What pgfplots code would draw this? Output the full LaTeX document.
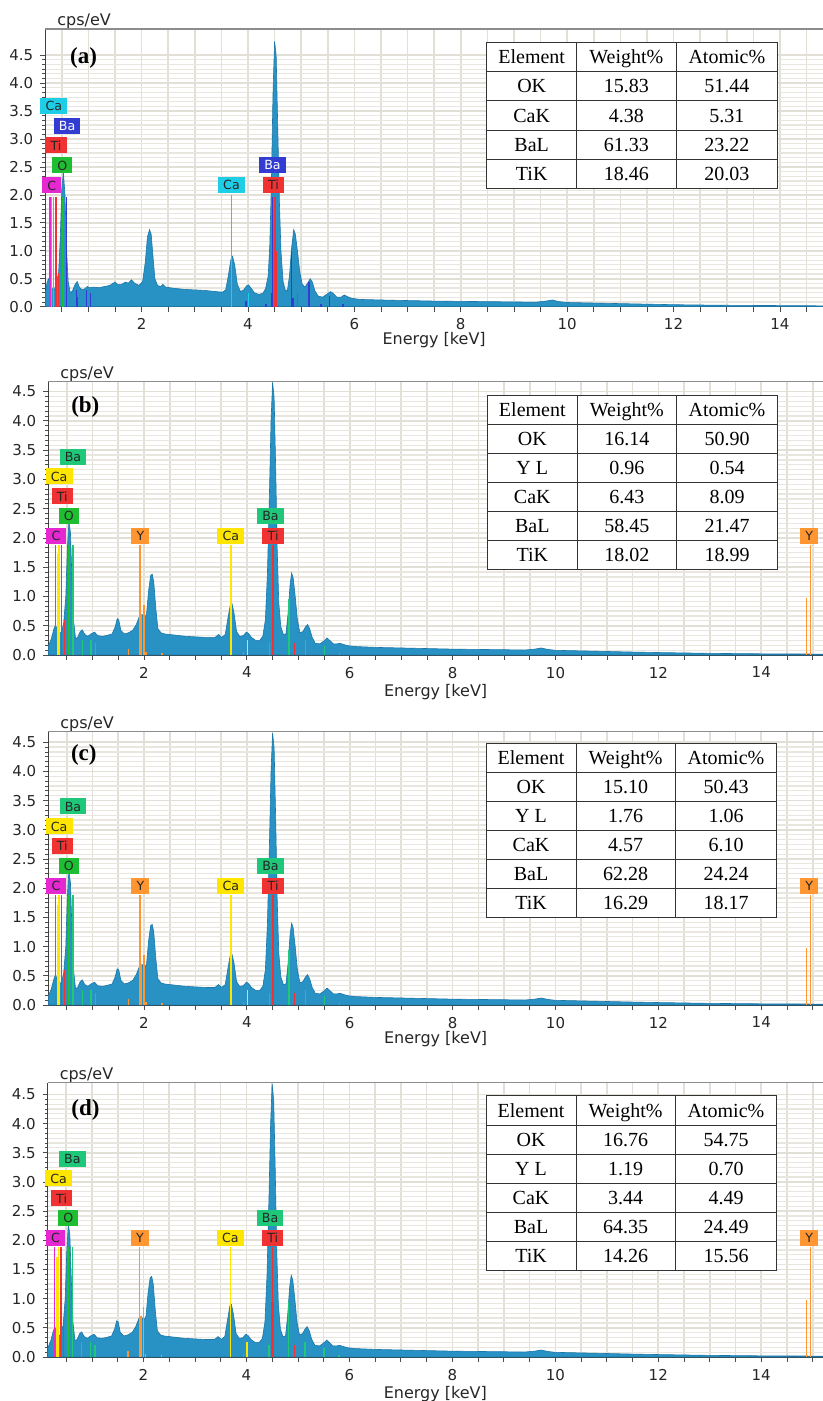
\documentclass[border=0pt]{standalone}
\usepackage{fontspec}
\setmainfont{Liberation Serif}
\newfontfamily\dejavu{DejaVu Sans}
\usepackage{pgfplots}
\usepackage{pgfplotstable}
\pgfplotsset{compat=1.18}

\definecolor{specfill}{RGB}{40,146,196}
\definecolor{specline}{RGB}{28,118,168}
\definecolor{gridmaj}{RGB}{226,223,215}
\definecolor{gridmin}{RGB}{232,230,223}
\definecolor{cMag}{RGB}{230,40,210}
\definecolor{cCyan}{RGB}{30,205,230}
\definecolor{cBlue}{RGB}{50,60,210}
\definecolor{cRed}{RGB}{240,50,50}
\definecolor{cGreen}{RGB}{30,190,50}
\definecolor{cTeal}{RGB}{30,200,120}
\definecolor{cYel}{RGB}{255,230,0}
\definecolor{cOra}{RGB}{255,150,50}

\pgfplotstableread{
e c
0.19 0.22
0.22 0.42
0.25 0.50
0.28 0.45
0.32 0.32
0.36 0.30
0.40 0.45
0.44 0.60
0.47 1.20
0.50 2.10
0.53 2.40
0.56 2.00
0.59 1.00
0.62 0.45
0.66 0.25
0.70 0.28
0.75 0.40
0.79 0.45
0.83 0.35
0.88 0.30
0.93 0.32
0.98 0.36
1.03 0.34
1.10 0.35
1.20 0.34
1.30 0.36
1.40 0.38
1.50 0.44
1.55 0.40
1.62 0.40
1.70 0.44
1.75 0.42
1.81 0.48
1.87 0.42
1.95 0.38
2.02 0.45
2.07 0.80
2.11 1.25
2.15 1.38
2.18 1.30
2.21 0.95
2.25 0.50
2.30 0.38
2.36 0.36
2.40 0.40
2.45 0.35
2.60 0.33
2.80 0.31
3.00 0.30
3.20 0.29
3.40 0.27
3.52 0.26
3.58 0.30
3.63 0.55
3.68 0.85
3.71 0.90
3.75 0.75
3.80 0.40
3.86 0.27
3.92 0.30
3.97 0.37
4.01 0.39
4.06 0.33
4.12 0.25
4.20 0.22
4.28 0.24
4.33 0.32
4.38 0.55
4.41 1.10
4.44 2.20
4.47 3.80
4.50 4.75
4.53 4.50
4.56 3.20
4.59 1.90
4.62 1.00
4.66 0.45
4.70 0.30
4.74 0.28
4.78 0.55
4.82 1.05
4.86 1.38
4.89 1.30
4.93 1.00
4.97 0.65
5.02 0.40
5.07 0.35
5.12 0.42
5.17 0.50
5.21 0.44
5.26 0.28
5.32 0.19
5.40 0.17
5.48 0.22
5.55 0.27
5.60 0.24
5.67 0.17
5.75 0.17
5.81 0.21
5.87 0.18
5.95 0.15
6.10 0.13
6.50 0.12
7.00 0.11
7.50 0.10
8.00 0.095
8.50 0.09
9.00 0.085
9.40 0.08
9.60 0.10
9.72 0.12
9.85 0.09
10.00 0.075
10.50 0.065
11.00 0.055
11.50 0.045
12.00 0.036
12.50 0.030
13.00 0.025
13.50 0.022
14.00 0.020
14.50 0.017
14.81 0.015
}\specA

\pgfplotstableread{
e c
0.14 0.15
0.20 0.28
0.25 0.45
0.28 0.51
0.32 0.42
0.36 0.36
0.40 0.40
0.44 0.55
0.48 1.00
0.51 1.80
0.54 2.28
0.57 2.10
0.60 1.30
0.63 0.60
0.67 0.28
0.71 0.30
0.76 0.40
0.80 0.43
0.85 0.35
0.91 0.32
0.97 0.36
1.04 0.39
1.10 0.33
1.20 0.32
1.30 0.34
1.38 0.36
1.44 0.48
1.48 0.62
1.51 0.60
1.55 0.42
1.62 0.36
1.70 0.38
1.78 0.42
1.85 0.52
1.92 0.68
1.96 0.70
2.00 0.62
2.05 0.70
2.09 1.10
2.13 1.36
2.16 1.38
2.19 1.25
2.23 0.80
2.27 0.45
2.33 0.38
2.40 0.36
2.60 0.34
2.80 0.32
3.00 0.31
3.20 0.30
3.38 0.30
3.45 0.35
3.51 0.30
3.58 0.35
3.63 0.62
3.68 0.86
3.71 0.88
3.75 0.72
3.80 0.40
3.86 0.32
3.93 0.33
3.99 0.39
4.03 0.37
4.09 0.30
4.17 0.25
4.25 0.25
4.31 0.32
4.36 0.60
4.40 1.40
4.44 2.80
4.47 4.00
4.50 4.66
4.53 4.40
4.56 3.20
4.59 1.80
4.62 0.90
4.66 0.48
4.71 0.35
4.76 0.36
4.80 0.70
4.84 1.20
4.87 1.40
4.90 1.32
4.94 1.00
4.98 0.62
5.03 0.38
5.09 0.40
5.14 0.48
5.18 0.52
5.22 0.45
5.27 0.30
5.33 0.20
5.42 0.19
5.50 0.24
5.56 0.29
5.61 0.25
5.68 0.19
5.75 0.19
5.81 0.20
5.88 0.18
5.96 0.16
6.10 0.145
6.50 0.13
7.00 0.12
7.50 0.11
8.00 0.10
8.50 0.095
9.00 0.09
9.40 0.085
9.60 0.10
9.72 0.12
9.85 0.095
10.00 0.08
10.50 0.07
11.00 0.06
11.50 0.05
12.00 0.042
12.50 0.035
13.00 0.028
13.50 0.024
14.00 0.02
14.50 0.018
15.20 0.015
}\specB

\pgfplotstableread{
e c
0.14 0.15
0.20 0.28
0.25 0.45
0.28 0.52
0.32 0.42
0.36 0.36
0.40 0.40
0.44 0.55
0.48 1.00
0.51 1.85
0.54 2.30
0.57 2.10
0.60 1.30
0.63 0.60
0.67 0.28
0.71 0.30
0.76 0.40
0.80 0.43
0.85 0.35
0.91 0.32
0.97 0.36
1.04 0.39
1.10 0.33
1.20 0.32
1.30 0.34
1.38 0.36
1.44 0.48
1.48 0.62
1.51 0.60
1.55 0.42
1.62 0.36
1.70 0.38
1.78 0.42
1.85 0.52
1.92 0.68
1.96 0.70
2.00 0.62
2.05 0.70
2.09 1.10
2.13 1.36
2.16 1.38
2.19 1.25
2.23 0.80
2.27 0.45
2.33 0.38
2.40 0.36
2.60 0.34
2.80 0.32
3.00 0.31
3.20 0.30
3.38 0.30
3.45 0.35
3.51 0.30
3.58 0.35
3.63 0.62
3.68 0.86
3.71 0.87
3.75 0.72
3.80 0.40
3.86 0.32
3.93 0.33
3.99 0.39
4.03 0.37
4.09 0.30
4.17 0.25
4.25 0.25
4.31 0.32
4.36 0.60
4.40 1.40
4.44 2.80
4.47 4.00
4.50 4.66
4.53 4.40
4.56 3.20
4.59 1.80
4.62 0.90
4.66 0.48
4.71 0.35
4.76 0.36
4.80 0.70
4.84 1.20
4.87 1.40
4.90 1.32
4.94 1.00
4.98 0.62
5.03 0.38
5.09 0.40
5.14 0.48
5.18 0.52
5.22 0.45
5.27 0.30
5.33 0.20
5.42 0.19
5.50 0.24
5.56 0.29
5.61 0.25
5.68 0.19
5.75 0.19
5.81 0.20
5.88 0.18
5.96 0.16
6.10 0.145
6.50 0.13
7.00 0.12
7.50 0.11
8.00 0.10
8.50 0.095
9.00 0.09
9.40 0.085
9.60 0.10
9.72 0.12
9.85 0.095
10.00 0.08
10.50 0.07
11.00 0.06
11.50 0.05
12.00 0.042
12.50 0.035
13.00 0.028
13.50 0.024
14.00 0.02
14.50 0.018
15.20 0.015
}\specC

\pgfplotstableread{
e c
0.14 0.15
0.20 0.28
0.25 0.45
0.28 0.51
0.32 0.42
0.36 0.36
0.40 0.40
0.44 0.55
0.48 1.00
0.51 1.80
0.54 2.28
0.57 2.10
0.60 1.30
0.63 0.60
0.67 0.28
0.71 0.30
0.76 0.40
0.80 0.43
0.85 0.35
0.91 0.32
0.97 0.36
1.04 0.39
1.10 0.33
1.20 0.32
1.30 0.34
1.38 0.36
1.44 0.48
1.48 0.62
1.51 0.60
1.55 0.42
1.62 0.36
1.70 0.38
1.78 0.42
1.85 0.52
1.92 0.68
1.96 0.70
2.00 0.62
2.05 0.70
2.09 1.10
2.13 1.36
2.16 1.38
2.19 1.25
2.23 0.80
2.27 0.45
2.33 0.38
2.40 0.36
2.60 0.34
2.80 0.32
3.00 0.31
3.20 0.30
3.38 0.30
3.45 0.35
3.51 0.30
3.58 0.35
3.63 0.62
3.68 0.88
3.71 0.90
3.75 0.72
3.80 0.40
3.86 0.32
3.93 0.33
3.99 0.39
4.03 0.37
4.09 0.30
4.17 0.25
4.25 0.25
4.31 0.32
4.36 0.60
4.40 1.40
4.44 2.80
4.47 4.00
4.50 4.68
4.53 4.40
4.56 3.20
4.59 1.80
4.62 0.90
4.66 0.48
4.71 0.35
4.76 0.36
4.80 0.70
4.84 1.20
4.87 1.40
4.90 1.32
4.94 1.00
4.98 0.62
5.03 0.38
5.09 0.40
5.14 0.48
5.18 0.52
5.22 0.45
5.27 0.30
5.33 0.20
5.42 0.19
5.50 0.24
5.56 0.29
5.61 0.25
5.68 0.19
5.75 0.19
5.81 0.20
5.88 0.18
5.96 0.16
6.10 0.145
6.50 0.13
7.00 0.12
7.50 0.11
8.00 0.10
8.50 0.095
9.00 0.09
9.40 0.085
9.60 0.10
9.72 0.12
9.85 0.095
10.00 0.08
10.50 0.07
11.00 0.06
11.50 0.05
12.00 0.042
12.50 0.035
13.00 0.028
13.50 0.024
14.00 0.02
14.50 0.018
15.20 0.015
}\specD

\tikzset{
  lbl/.style={font=\dejavu\fontsize{6.3}{7}\selectfont, inner xsep=2.6pt, inner ysep=0pt,
    minimum height=8pt, text height=4.8pt, text depth=0pt, text=black!85},
  plab/.style={font=\bfseries\fontsize{11.5}{12}\selectfont},
}

\pgfplotsset{
  edsax/.style={
    scale only axis, anchor=south west,
    axis lines*=left,
    axis line style={draw=black!75, line width=0.6pt},
    ymin=0,
    xtick={0.5,1,...,15},
    xticklabels={,,,2,,,,4,,,,6,,,,8,,,,10,,,,12,,,,14,,},
    ytick={0,0.5,...,4.5}, minor y tick num=5,
    tick align=outside, major tick length=2.5pt, minor tick length=1.5pt,
    every tick/.style={black!70, line width=0.4pt},
    grid=both,
    major grid style={gridmaj, line width=0.8pt},
    minor grid style={gridmin, line width=0.6pt},
    ticklabel style={font=\dejavu\fontsize{7.5}{9}\selectfont, text=black!85},
    /pgf/number format/assume math mode=true,
    yticklabel style={/pgf/number format/.cd, fixed, fixed zerofill, precision=1},
    xlabel={Energy [keV]},
    xlabel style={font=\dejavu\fontsize{8}{9}\selectfont, text=black!85,
      at={(axis description cs:0.5,0)}, anchor=base},
    ylabel={cps/eV},
    ylabel style={font=\dejavu\fontsize{8}{9}\selectfont, text=black!85, rotate=-90,
      at={(axis description cs:0,1)}, anchor=base west, xshift=2.5pt, yshift=1.8pt},
    clip=false,
  },
}

\newcommand{\edstable}[8]{%
  \begin{scope}[yshift=700.5pt, x=0.5pt, y=-0.5pt]
    \fill[white] (#1,#2) rectangle (#5,{#2+#8*#6});
    \foreach \el/\w/\at [count=\i from 0] in {#7} {
      \draw[black!80, line width=0.5pt] (#1,{#2+\i*#6}) -- (#5,{#2+\i*#6});
      \node[font=\fontsize{10}{12}\selectfont, text height=6.6pt, text depth=0pt, inner sep=0pt]
        at ({(#1+#3)/2},{#2+(\i+0.5)*#6}) {\el};
      \node[font=\fontsize{10}{12}\selectfont, text height=6.6pt, text depth=0pt, inner sep=0pt]
        at ({(#3+#4)/2},{#2+(\i+0.5)*#6}) {\w};
      \node[font=\fontsize{10}{12}\selectfont, text height=6.6pt, text depth=0pt, inner sep=0pt]
        at ({(#4+#5)/2},{#2+(\i+0.5)*#6}) {\at};
    }
    \draw[black!80, line width=0.5pt] (#1,#2) rectangle (#5,{#2+#8*#6});
    \draw[black!80, line width=0.5pt] (#3,#2) -- (#3,{#2+#8*#6});
    \draw[black!80, line width=0.5pt] (#4,#2) -- (#4,{#2+#8*#6});
  \end{scope}}

\begin{document}
\begin{tikzpicture}
\useasboundingbox (0,0) rectangle (411.5pt,700.5pt);

% ---------------- (a)
\begin{axis}[edsax, at={(22.65pt,547.15pt)}, width=388.85pt, height=138.85pt,
  xmin=0.19, xmax=14.81, ymax=4.97, xlabel style={yshift=-19pt}]
\addplot[fill=specfill, draw=specline, line width=0.3pt] table[x=e,y=c] {\specA} \closedcycle;
\addplot[ycomb, cMag, line width=0.7pt, no marks] coordinates {(0.28,1.97)};
\addplot[ycomb, cCyan, line width=0.7pt, no marks] coordinates {(0.31,1.97)(0.34,1.97)(3.69,2.0)(4.01,0.25)};
\addplot[ycomb, cRed, line width=0.7pt, no marks] coordinates {(0.39,1.97)(0.44,0.6)(0.51,0.1)(4.51,1.97)(4.93,0.25)};
\addplot[ycomb, cRed, line width=1.2pt, no marks] coordinates {(4.515,1.0)};
\addplot[ycomb, cGreen, line width=1.0pt, no marks] coordinates {(0.515,1.97)};
\addplot[ycomb, cBlue, line width=0.7pt, no marks] coordinates {(0.59,1.97)(0.78,0.3)(0.80,0.18)(0.97,0.3)(1.04,0.25)(3.96,0.1)(4.34,0.05)(4.44,0.25)(4.465,1.97)(4.82,1.0)(4.85,0.15)(5.15,0.45)(5.37,0.05)(5.53,0.2)(5.79,0.05)};
\node[lbl, fill=cCyan] at (axis cs:0.35,3.60) {Ca};
\node[lbl, fill=cBlue, text=white] at (axis cs:0.60,3.24) {Ba};
\node[lbl, fill=cRed] at (axis cs:0.39,2.89) {Ti};
\node[lbl, fill=cGreen] at (axis cs:0.51,2.53) {O};
\node[lbl, fill=cMag] at (axis cs:0.31,2.17) {C};
\node[lbl, fill=cCyan] at (axis cs:3.69,2.18) {Ca};
\node[lbl, fill=cBlue, text=white] at (axis cs:4.46,2.54) {Ba};
\node[lbl, fill=cRed] at (axis cs:4.48,2.18) {Ti};
\node[plab] at (axis cs:0.91,4.45) {(a)};
\end{axis}

% ---------------- (b)
\begin{axis}[edsax, at={(24.15pt,373pt)}, width=387.35pt, height=136.65pt,
  xmin=0.14, xmax=15.2, ymax=4.67, xlabel style={yshift=-21pt}]
\addplot[fill=specfill, draw=specline, line width=0.3pt] table[x=e,y=c] {\specB} \closedcycle;
\addplot[ycomb, cMag, line width=0.7pt, no marks] coordinates {(0.277,1.88)};
\addplot[ycomb, cYel, line width=0.7pt, no marks] coordinates {(0.32,1.72)(0.345,1.88)(3.69,1.88)(4.01,0.25)};
\addplot[ycomb, cRed, line width=0.7pt, no marks] coordinates {(0.40,1.88)(0.45,0.6)(0.53,0.12)(4.51,1.88)(4.93,0.2)};
\addplot[ycomb, cRed, line width=1.2pt, no marks] coordinates {(4.505,0.95)};
\addplot[ycomb, cGreen, line width=1.0pt, no marks] coordinates {(0.54,1.88)};
\addplot[ycomb, cTeal, line width=0.7pt, no marks] coordinates {(0.62,1.88)(0.80,0.25)(0.97,0.25)(1.06,0.2)(3.94,0.05)(4.44,0.2)(4.82,0.95)(5.14,0.25)(5.51,0.15)(5.80,0.03)};
\addplot[ycomb, cOra, line width=0.7pt, no marks] coordinates {(1.70,0.1)(1.92,1.88)(1.95,0.7)(2.0,0.85)(2.04,0.05)(2.35,0.03)(14.88,0.98)(14.96,1.88)};
\node[lbl, fill=cTeal] at (axis cs:0.62,3.39) {Ba};
\node[lbl, fill=cYel] at (axis cs:0.35,3.05) {Ca};
\node[lbl, fill=cRed] at (axis cs:0.41,2.71) {Ti};
\node[lbl, fill=cGreen] at (axis cs:0.54,2.38) {O};
\node[lbl, fill=cMag] at (axis cs:0.29,2.04) {C};
\node[lbl, fill=cOra] at (axis cs:1.93,2.04) {Y};
\node[lbl, fill=cYel] at (axis cs:3.69,2.04) {Ca};
\node[lbl, fill=cTeal] at (axis cs:4.46,2.38) {Ba};
\node[lbl, fill=cRed] at (axis cs:4.51,2.04) {Ti};
\node[lbl, fill=cOra] at (axis cs:14.93,2.04) {Y};
\node[plab] at (axis cs:0.86,4.24) {(b)};
\end{axis}

% ---------------- (c)
\begin{axis}[edsax, at={(24.15pt,198pt)}, width=387.35pt, height=136.65pt,
  xmin=0.14, xmax=15.2, ymax=4.68, xlabel style={yshift=-19.5pt}]
\addplot[fill=specfill, draw=specline, line width=0.3pt] table[x=e,y=c] {\specC} \closedcycle;
\addplot[ycomb, cMag, line width=0.7pt, no marks] coordinates {(0.277,1.88)};
\addplot[ycomb, cYel, line width=0.7pt, no marks] coordinates {(0.32,1.72)(0.345,1.88)(3.69,1.88)(4.01,0.25)};
\addplot[ycomb, cRed, line width=0.7pt, no marks] coordinates {(0.40,1.88)(0.45,0.6)(0.53,0.12)(4.51,1.88)(4.93,0.2)};
\addplot[ycomb, cRed, line width=1.2pt, no marks] coordinates {(4.505,0.95)};
\addplot[ycomb, cGreen, line width=1.0pt, no marks] coordinates {(0.54,1.88)};
\addplot[ycomb, cTeal, line width=0.7pt, no marks] coordinates {(0.62,1.88)(0.80,0.25)(0.97,0.25)(1.06,0.2)(3.94,0.05)(4.44,0.2)(4.82,0.95)(5.14,0.25)(5.51,0.15)(5.80,0.03)};
\addplot[ycomb, cOra, line width=0.7pt, no marks] coordinates {(1.70,0.1)(1.92,1.88)(1.95,0.7)(2.0,0.85)(2.04,0.05)(2.35,0.03)(14.88,0.98)(14.96,1.88)};
\node[lbl, fill=cTeal] at (axis cs:0.62,3.40) {Ba};
\node[lbl, fill=cYel] at (axis cs:0.35,3.06) {Ca};
\node[lbl, fill=cRed] at (axis cs:0.41,2.72) {Ti};
\node[lbl, fill=cGreen] at (axis cs:0.54,2.38) {O};
\node[lbl, fill=cMag] at (axis cs:0.29,2.04) {C};
\node[lbl, fill=cOra] at (axis cs:1.93,2.04) {Y};
\node[lbl, fill=cYel] at (axis cs:3.69,2.04) {Ca};
\node[lbl, fill=cTeal] at (axis cs:4.46,2.38) {Ba};
\node[lbl, fill=cRed] at (axis cs:4.51,2.04) {Ti};
\node[lbl, fill=cOra] at (axis cs:14.93,2.04) {Y};
\node[plab] at (axis cs:0.83,4.28) {(c)};
\end{axis}

% ---------------- (d)
\begin{axis}[edsax, at={(23.85pt,22pt)}, width=387.65pt, height=136.85pt,
  xmin=0.14, xmax=15.2, ymax=4.69, xlabel style={yshift=-20.5pt}]
\addplot[fill=specfill, draw=specline, line width=0.3pt] table[x=e,y=c] {\specD} \closedcycle;
\addplot[ycomb, cMag, line width=0.7pt, no marks] coordinates {(0.277,1.88)};
\addplot[ycomb, cYel, line width=0.7pt, no marks] coordinates {(0.32,1.72)(0.345,1.88)(3.69,1.88)(4.01,0.25)};
\addplot[ycomb, cRed, line width=0.7pt, no marks] coordinates {(0.40,1.88)(0.45,0.6)(0.53,0.12)(4.51,1.88)(4.93,0.2)};
\addplot[ycomb, cRed, line width=1.2pt, no marks] coordinates {(4.505,0.95)};
\addplot[ycomb, cGreen, line width=1.0pt, no marks] coordinates {(0.54,1.88)};
\addplot[ycomb, cTeal, line width=0.7pt, no marks] coordinates {(0.62,1.88)(0.80,0.25)(0.97,0.25)(1.06,0.2)(3.94,0.05)(4.44,0.2)(4.82,0.95)(5.14,0.25)(5.51,0.15)(5.80,0.03)};
\addplot[ycomb, cOra, line width=0.7pt, no marks] coordinates {(1.70,0.1)(1.92,1.88)(1.95,0.7)(2.0,0.85)(2.04,0.05)(2.35,0.03)(14.88,0.98)(14.96,1.88)};
\node[lbl, fill=cTeal] at (axis cs:0.62,3.40) {Ba};
\node[lbl, fill=cYel] at (axis cs:0.35,3.06) {Ca};
\node[lbl, fill=cRed] at (axis cs:0.41,2.72) {Ti};
\node[lbl, fill=cGreen] at (axis cs:0.54,2.38) {O};
\node[lbl, fill=cMag] at (axis cs:0.29,2.04) {C};
\node[lbl, fill=cOra] at (axis cs:1.93,2.04) {Y};
\node[lbl, fill=cYel] at (axis cs:3.69,2.04) {Ca};
\node[lbl, fill=cTeal] at (axis cs:4.46,2.38) {Ba};
\node[lbl, fill=cRed] at (axis cs:4.51,2.04) {Ti};
\node[lbl, fill=cOra] at (axis cs:14.93,2.04) {Y};
\node[plab] at (axis cs:0.875,4.24) {(d)};
\end{axis}

% top frame lines
\begin{scope}[yshift=700.5pt, x=0.5pt, y=-0.5pt]
\draw[black!45, line width=0.6pt] (45.3,29) -- (823,29);
\draw[black!45, line width=0.6pt] (48.3,381.7) -- (823,381.7);
\draw[black!45, line width=0.6pt] (48.3,731.7) -- (823,731.7);
\draw[black!45, line width=0.6pt] (47.7,1082.3) -- (823,1082.3);
\end{scope}

% tables
\edstable{486.7}{42.3}{576.7}{676}{777.7}{29.3}{Element/Weight\%/Atomic\%, OK/15.83/51.44, CaK/4.38/5.31, BaL/61.33/23.22, TiK/18.46/20.03}{5}
\edstable{487.3}{395.7}{577.3}{676.3}{777.7}{28.9}{Element/Weight\%/Atomic\%, OK/16.14/50.90, Y L/0.96/0.54, CaK/6.43/8.09, BaL/58.45/21.47, TiK/18.02/18.99}{6}
\edstable{486}{743.3}{576}{675.3}{776.7}{29}{Element/Weight\%/Atomic\%, OK/15.10/50.43, Y L/1.76/1.06, CaK/4.57/6.10, BaL/62.28/24.24, TiK/16.29/18.17}{6}
\edstable{486}{1096}{576}{675.3}{776.7}{29.1}{Element/Weight\%/Atomic\%, OK/16.76/54.75, Y L/1.19/0.70, CaK/3.44/4.49, BaL/64.35/24.49, TiK/14.26/15.56}{6}
\end{tikzpicture}
\end{document}
